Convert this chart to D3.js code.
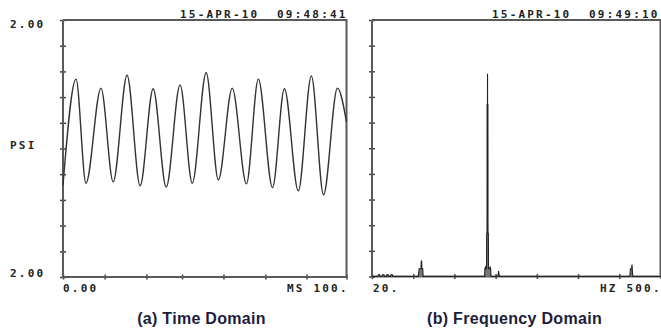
<!DOCTYPE html>
<html>
<head>
<meta charset="utf-8">
<script src="https://cdn.jsdelivr.net/npm/d3@7"></script>
<style>
  html, body { margin: 0; padding: 0; background: #fff; }
  svg { display: block; }
  .mono { font-family: "DejaVu Sans Mono", monospace; font-weight: bold; font-size: 11px; letter-spacing: 2.2px; fill: #222; white-space: pre; }
  .cap { font-family: "Liberation Sans", Arial, sans-serif; font-weight: bold; font-size: 16px; letter-spacing: 0.3px; fill: #1c1c3c; }
</style>
</head>
<body>
<script>
// ---- Data ----
// (a) Time domain: extrema of the pressure waveform (ms, PSI)
const timeMs = [0, 4.6, 8.1, 13.4, 17.7, 22.6, 27.2, 31.8, 36.4, 41.3, 45.6, 50.5, 54.8, 59.7, 64.7, 68.9, 73.9, 78.1, 83.0, 87.6, 91.9, 96.8, 100];
const psi    = [-0.57, 1.08, -0.54, 0.94, -0.52, 1.14, -0.58, 0.93, -0.60, 0.99, -0.54, 1.18, -0.49, 0.94, -0.55, 1.08, -0.61, 0.93, -0.66, 1.13, -0.72, 0.94, 0.41];

// (b) Frequency domain spectrum (Hz, relative amplitude)
const freqHz = [20, 30, 30.5, 33, 33.5, 37, 37.5, 40, 40.5, 44, 44.5, 47, 47.5, 51, 51.5, 54, 54.5, 97, 98.5, 101.5, 102, 102.6, 103, 104.5, 105,
                206, 207.3, 207.8, 208.6, 209.6, 210.5, 210.8, 211.4, 211.5, 212.1, 212.2, 212.3, 212.9, 213.0, 213.6, 213.9, 215.6, 216.6, 217.4, 217.9,
                229.5, 230.2, 230.7, 231.2, 232, 449, 450, 452, 452.6, 453.2, 454, 500];
const amp    = [0, 0, 0.007, 0.007, 0, 0, 0.007, 0.007, 0, 0, 0.007, 0.007, 0, 0, 0.007, 0.007, 0, 0, 0.03, 0.03, 0.06, 0.06, 0.03, 0.03, 0,
                0, 0, 0.03, 0.036, 0.03, 0.03, 0.168, 0.168, 0.67, 0.67, 0.79, 0.67, 0.67, 0.168, 0.168, 0.03, 0.03, 0.036, 0.03, 0,
                0, 0.012, 0.021, 0.012, 0, 0, 0.03, 0.03, 0.047, 0.02, 0, 0];

// Ticks and labels
const psiTicks  = [-2, -1.6, -1.2, -0.8, -0.4, 0, 0.4, 0.8, 1.2, 1.6, 2];
const ampTicks  = [0, 0.1, 0.2, 0.3, 0.4, 0.5, 0.6, 0.7, 0.8, 0.9, 1];
const msTicks   = [0, 14.7, 29.4, 42, 56.6, 71.4, 85.9, 100];
const hzTicks   = [20, 88.6, 157.1, 225.7, 294.3, 362.9, 431.4, 500];
const stampA = "15-APR-10  09:48:41";
const stampB = "15-APR-10  09:49:10";
const yTopLabel = "2.00", yBotLabel = "2.00", yUnit = "PSI";
const xA = ["0.00", "MS 100."];
const xB = ["20.", "HZ 500."];
const captions = ["(a) Time Domain", "(b) Frequency Domain"];

// ---- Layout ----
const W = 661, H = 331;
const A = {x0: 63, x1: 346.5, y0: 20, y1: 277};
const B = {x0: 372, x1: 660.5, y0: 20, y1: 276.5};
const axisColor = "#5a5a5a";

const svg = d3.select("body").append("svg").attr("width", W).attr("height", H);
svg.append("rect").attr("width", W).attr("height", H).attr("fill", "#fff");

function panel(P, xDomain, yDomain, xTicks, yTicks) {
  const x = d3.scaleLinear().domain(xDomain).range([P.x0, P.x1]);
  const y = d3.scaleLinear().domain(yDomain).range([P.y1, P.y0]);
  const gy = svg.append("g").attr("transform", `translate(${P.x0},0)`)
    .call(d3.axisLeft(y).tickValues(yTicks).tickFormat("").tickSize(3).tickSizeOuter(0));
  gy.select(".domain").remove();
  gy.selectAll(".tick line").attr("x1", -3).attr("x2", 3).attr("stroke", "#444").attr("stroke-width", 1.5);
  const gx = svg.append("g").attr("transform", `translate(0,${P.y1})`)
    .call(d3.axisBottom(x).tickValues(xTicks).tickFormat("").tickSize(3).tickSizeOuter(0));
  gx.select(".domain").remove();
  gx.selectAll(".tick line").attr("y1", -2.5).attr("y2", 2.5).attr("stroke", "#444").attr("stroke-width", 1.5);
  svg.append("path")
    .attr("d", `M${P.x0},${P.y0}V${P.y1}H${P.x1}V${P.y0}H${P.x0}`)
    .attr("fill", "none").attr("stroke", axisColor).attr("stroke-width", 2);
  return {x, y};
}

// Panel A
const sa = panel(A, [0, 100], [-2, 2], msTicks, psiTicks);
const lineA = d3.line().x((d, i) => sa.x(timeMs[i])).y((d, i) => sa.y(psi[i])).curve(d3.curveMonotoneX);
svg.append("path").attr("d", lineA(psi)).attr("fill", "none")
  .attr("stroke", "#333").attr("stroke-width", 1.4).attr("stroke-linejoin", "round");

// Panel B
const sb = panel(B, [20, 500], [0, 1], hzTicks, ampTicks);
const areaB = d3.area().x((d, i) => sb.x(freqHz[i])).y0(sb.y(0)).y1((d, i) => sb.y(amp[i]));
const lineB = d3.line().x((d, i) => sb.x(freqHz[i])).y((d, i) => sb.y(amp[i]));
svg.append("path").attr("d", areaB(amp)).attr("fill", "#777").attr("stroke", "none");
svg.append("path").attr("d", lineB(amp)).attr("fill", "none")
  .attr("stroke", "#222").attr("stroke-width", 1.1);

// ---- Text ----
function t(str, x, y, cls, anchor) {
  svg.append("text").attr("class", cls).attr("x", x).attr("y", y)
    .attr("text-anchor", anchor || "start").attr("xml:space", "preserve").text(str);
}
t(stampA, 180, 18, "mono");
t(stampB, 492, 18, "mono");
t(yTopLabel, 10, 28, "mono");
t(yUnit, 10, 149, "mono");
t(yBotLabel, 10, 276.5, "mono");
t(xA[0], 63, 292, "mono");
t(xA[1], 287, 292, "mono");
t(xB[0], 373, 292, "mono");
t(xB[1], 600, 292, "mono");
t(captions[0], 201.5, 324, "cap", "middle");
t(captions[1], 514.5, 324, "cap", "middle");
</script>
</body>
</html>
